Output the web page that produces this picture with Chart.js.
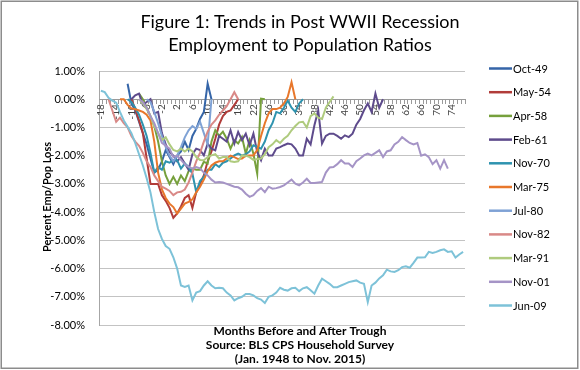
<!DOCTYPE html>
<html>
<head>
<meta charset="utf-8">
<script src="https://cdn.jsdelivr.net/npm/chart.js@4.4.1/dist/chart.umd.min.js"></script>
<style>
  html, body { margin: 0; padding: 0; background: #fff; }
  #wrap { width: 580px; height: 370px; }
</style>
</head>
<body>
<div id="wrap"><canvas id="c" width="580" height="370"></canvas></div>
<script>
// ---- Categories: months before/after trough ----
const months = [-18,-17,-16,-15,-14,-13,-12,-11,-10,-9,-8,-7,-6,-5,-4,-3,-2,-1,0,1,2,3,4,5,6,7,8,9,10,11,12,13,14,15,16,17,18,19,20,21,22,23,24,25,26,27,28,29,30,31,32,33,34,35,36,37,38,39,40,41,42,43,44,45,46,47,48,49,50,51,52,53,54,55,56,57,58,59,60,61,62,63,64,65,66,67,68,69,70,71,72,73,74,75,76,77];

// ---- Series names ----
const seriesNames = ['Oct-49','May-54','Apr-58','Feb-61','Nov-70','Mar-75','Jul-80','Nov-82','Mar-91','Nov-01','Jun-09'];

// ---- First month of each series ----
const seriesStart = [-11,-10,-8,-10,-11,-13,-6,-16,-8,-8,-18];

// ---- Series values (percent), month by month from their start ----
const oct49 = [0.55,-0.15,-0.4,-0.8,-1.2,-1.6,-2.1,-2.6,-2.5,-2.2,-1.8,-2.05,-2.3,-2.0,-1.85,-1.5,-1.8,-1.3,-1.05,-0.7,-0.45,0.55,0.0];
const may54 = [0,-0.35,-0.75,-1.2,-2.1,-3.0,-3.0,-3.0,-3.4,-3.6,-3.85,-4.2,-4.05,-3.8,-3.5,-3.4,-3.85,-3.3,-3.0,-2.7,-2.2,-1.85,-1.4,-0.9,-0.6,-0.45,-0.4,-0.2,0];
const apr58 = [0.2,0.0,-0.3,-0.6,-0.95,-1.5,-2.2,-2.7,-3.0,-2.75,-3.0,-2.7,-2.9,-2.55,-2.46,-2.5,-2.5,-2.22,-2.28,-1.5,-1.1,-1.3,-1.15,-1.4,-1.75,-1.45,-1.57,-1.34,-1.93,-1.45,-1.93,-2.64,0.02,0.0];
const feb61 = [0,0.14,0.2,-0.2,-0.1,0.0,-0.5,-0.45,-1.2,-1.6,-1.87,-2.0,-2.2,-2.05,-2.28,-2.5,-1.95,-1.75,-1.8,-1.99,-1.57,-1.75,-1.81,-1.3,-1.4,-1.5,-1.1,-1.57,-1.16,-1.45,-1.22,-1.63,-1.22,-1.87,-2.16,-1.75,-1.99,-1.99,-1.75,-1.7,-1.63,-1.57,-1.6,-1.75,-1.99,-1.99,-1.4,-1.6,-0.92,-0.4,-1.57,-1.3,-1.22,-1.22,-1.3,-1.4,-1.28,-1.34,-1.22,-0.9,-0.7,-0.39,-0.15,-0.45,0.2,-0.3,0.0];
const nov70 = [0,-0.1,-0.3,-0.55,-0.9,-1.3,-1.9,-2.6,-2.4,-2.5,-2.2,-2.25,-2.15,-2.16,-2.46,-2.28,-2.4,-2.64,-3.29,-2.9,-2.75,-2.5,-2.5,-2.3,-2.4,-2.25,-2.2,-2.1,-1.99,-1.93,-1.99,-1.95,-1.85,-1.63,-1.69,-1.75,-1.5,-1.1,-0.85,-0.45,-0.5,-0.3,-0.05,-0.3,-0.45,-0.15,0];
const mar75 = [0,0,-0.2,-0.33,-0.35,-0.4,-0.45,-0.55,-0.75,-1.5,-2.6,-3.2,-3.5,-3.7,-3.82,-4.05,-3.88,-3.7,-3.64,-3.55,-3.3,-3.1,-2.85,-2.55,-2.35,-2.25,-2.2,-2.2,-2.1,-2.0,-2.05,-2.12,-2.1,-2.0,-1.99,-1.99,-1.8,-1.3,-0.85,-0.5,-0.35,-0.35,-0.3,-0.15,0.08,0.6,0];
const jul80 = [0,-0.1,-0.45,-0.85,-1.3,-1.7,-2.0,-2.2,-2.0,-1.7,-1.35,-1.1,-0.95,-1.05,-0.8,-1.2,-1.6,0];
const nov82 = [0,-0.4,-0.8,-0.65,-0.85,-1.0,-1.3,-1.5,-1.65,-1.9,-2.2,-2.4,-2.7,-2.9,-3.1,-3.17,-3.25,-3.4,-3.3,-3.28,-3.2,-2.95,-2.6,-2.2,-1.9,-1.5,-1.15,-0.9,-0.75,-0.55,-0.4,-0.25,0,0.25,0];
const mar91 = [0,-0.15,-0.35,-0.6,-0.95,-1.2,-1.45,-1.35,-1.6,-1.8,-1.85,-1.75,-1.85,-1.75,-1.85,-2.05,-2.15,-2.16,-2.05,-1.99,-1.95,-2.1,-2.05,-2.05,-2.2,-2.22,-2.2,-1.99,-2.0,-2.05,-2.15,-2.12,-2.1,-1.95,-1.7,-1.6,-1.45,-1.55,-1.4,-1.3,-1.1,-0.95,-0.82,-0.8,-1.0,-0.6,-0.5,-0.65,-0.7,-0.3,-0.1,0.1];
const nov01 = [0,-0.1,-0.3,-0.6,-0.85,-1.2,-1.55,-1.65,-1.75,-2.05,-2.0,-2.15,-2.3,-2.4,-2.46,-2.4,-2.45,-2.6,-2.7,-2.85,-2.95,-2.93,-2.95,-3.0,-3.05,-3.1,-3.12,-3.2,-3.35,-3.46,-3.4,-3.25,-3.15,-3.29,-3.1,-3.17,-3.15,-3.11,-3.05,-2.95,-2.85,-2.99,-3.05,-2.95,-2.82,-2.97,-2.97,-2.95,-2.93,-2.6,-2.42,-2.4,-2.3,-2.16,-2.28,-2.28,-2.4,-2.2,-2.1,-1.99,-1.93,-1.99,-1.9,-1.81,-2.05,-1.85,-1.81,-1.6,-1.51,-1.34,-1.45,-1.55,-1.6,-1.55,-2.0,-1.95,-2.05,-2.3,-2.16,-2.46,-2.16,-2.46];
const jun09 = [0.30,0.25,0.05,-0.05,-0.12,-0.45,-0.75,-0.98,-1.2,-1.55,-1.95,-2.35,-2.8,-3.3,-4.0,-4.6,-4.95,-5.2,-5.3,-5.6,-6.0,-6.6,-6.65,-6.6,-7.13,-6.85,-6.8,-6.6,-6.45,-6.6,-6.7,-6.68,-6.7,-6.85,-6.95,-7.13,-7.05,-7.0,-6.9,-6.9,-6.95,-7.05,-7.1,-7.22,-7.0,-6.95,-6.85,-6.68,-6.75,-6.78,-6.7,-6.68,-6.8,-6.7,-6.66,-6.77,-6.89,-6.6,-6.36,-6.45,-6.54,-6.66,-6.66,-6.6,-6.54,-6.48,-6.45,-6.42,-6.5,-6.54,-7.19,-6.6,-6.5,-6.35,-6.24,-6.04,-6.1,-6.12,-6.06,-5.95,-5.92,-5.97,-5.8,-5.61,-5.61,-5.6,-5.41,-5.45,-5.41,-5.35,-5.32,-5.41,-5.39,-5.61,-5.5,-5.41];

const seriesValues = [oct49, may54, apr58, feb61, nov70, mar75, jul80, nov82, mar91, nov01, jun09];

// ---- Y-axis tick range ----
const yMin = -8, yMax = 1, yStep = 1;

// ---- Styles ----
const seriesColors = ['#3565A8','#B13C39','#76A03C','#5E4B8C','#2E93AF','#E8772B','#7FA2D5','#D98987','#AFCB7E','#A594C6','#7DC2D8'];

function placeSeries(start, values) {
  const out = months.map(() => null);
  const first = months.indexOf(start);
  values.forEach((v, i) => { out[first + i] = v; });
  return out;
}

const FONT = 'Lato, "Open Sans", sans-serif';
Chart.defaults.font.family = FONT;

const datasets = seriesNames.map((name, i) => ({
  label: name,
  data: placeSeries(seriesStart[i], seriesValues[i]),
  borderColor: seriesColors[i],
  backgroundColor: seriesColors[i],
  borderWidth: 2,
  pointRadius: 0,
  pointHoverRadius: 0,
  tension: 0,
  fill: false,
  spanGaps: false,
  order: seriesNames.length - 1 - i
}));

const decor = {
  id: 'decor',
  beforeDraw(chart) {
    const ctx = chart.ctx;
    ctx.save();
    ctx.fillStyle = '#ffffff';
    ctx.fillRect(0, 0, chart.width, chart.height);
    ctx.restore();
  },
  afterDraw(chart) {
    const ctx = chart.ctx;
    ctx.save();
    // outer frame
    ctx.strokeStyle = '#8c8c8c';
    ctx.lineWidth = 1.5;
    ctx.strokeRect(1.25, 1.25, 576.5, 367);

    // title
    ctx.fillStyle = '#000';
    ctx.textAlign = 'center';
    ctx.textBaseline = 'middle';
    ctx.font = '18px ' + FONT;
    ctx.fillText('Figure 1: Trends in Post WWII Recession', 300, 22);
    ctx.fillText('Employment to Population Ratios', 300, 45);

    // x-axis title
    ctx.font = 'bold 12px ' + FONT;
    ctx.fillText('Months Before and After Trough', 300, 331);
    ctx.fillText('Source: BLS CPS Household Survey', 300, 345);
    ctx.fillText('(Jan. 1948 to Nov. 2015)', 300, 359);

    // y-axis title
    ctx.save();
    ctx.translate(47, 197);
    ctx.rotate(-Math.PI / 2);
    ctx.font = 'bold 11px ' + FONT;
    ctx.fillText('Percent Emp/Pop Loss', 0, 0);
    ctx.restore();

    // legend
    ctx.textAlign = 'left';
    ctx.font = '11px ' + FONT;
    chart.data.datasets.forEach((ds, i) => {
      const y = 68.5 + i * 23.7;
      ctx.strokeStyle = ds.borderColor;
      ctx.lineWidth = 2.5;
      ctx.beginPath();
      ctx.moveTo(489, y);
      ctx.lineTo(512, y);
      ctx.stroke();
      ctx.fillStyle = '#000';
      ctx.fillText(ds.label, 513, y + 0.5);
    });
    ctx.restore();
  }
};

new Chart(document.getElementById('c'), {
  type: 'line',
  data: { labels: months.map(String), datasets },
  options: {
    responsive: false,
    animation: false,
    devicePixelRatio: 1,
    layout: { padding: { left: 0, top: 71, right: 115, bottom: 45 } },
    plugins: { legend: { display: false }, title: { display: false }, tooltip: { enabled: false } },
    scales: {
      y: {
        min: yMin, max: yMax,
        afterFit(scale) { scale.width = 99; },
        ticks: {
          stepSize: yStep,
          color: '#000',
          font: { size: 11 },
          padding: 14,
          callback: (v) => Number(v).toFixed(2) + '%'
        },
        grid: { color: '#c3c3c3', lineWidth: 1, drawTicks: false },
        border: { color: '#a6a6a6', width: 1 }
      },
      x: {
        type: 'category',
        offset: true,
        position: { y: 0 },
        grid: { drawOnChartArea: false, drawTicks: true, tickLength: 4, color: '#9a9a9a', offset: true },
        border: { color: '#9a9a9a', width: 1 },
        ticks: {
          autoSkip: false,
          minRotation: 90,
          maxRotation: 90,
          padding: 1,
          color: '#404040',
          font: { size: 10 },
          callback: function (val, idx) { return idx % 4 === 0 ? this.getLabelForValue(val) : ''; }
        }
      }
    }
  },
  plugins: [decor]
});
</script>
</body>
</html>
